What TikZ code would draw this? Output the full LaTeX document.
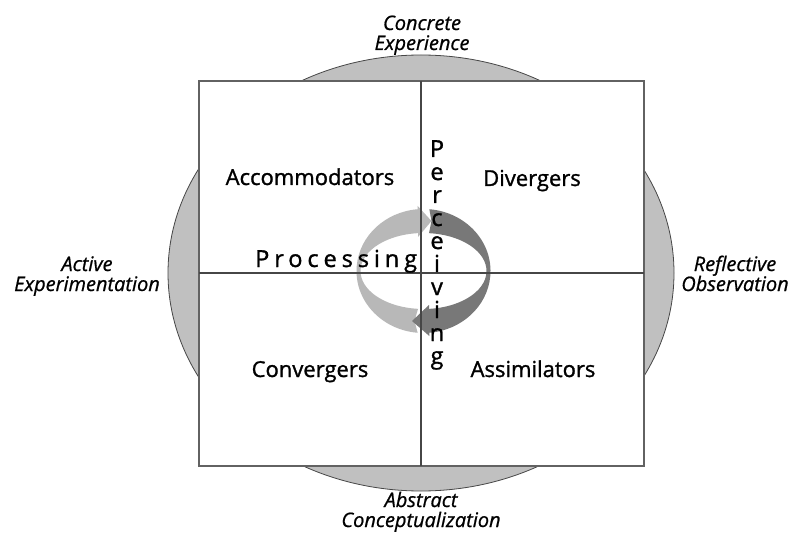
\documentclass[tikz,border=0pt]{standalone}
\usepackage{fontspec}
\setmainfont{Open Sans}
\definecolor{ringgray}{RGB}{192,192,192}
\definecolor{lightarrow}{RGB}{184,184,184}
\definecolor{darkarrow}{RGB}{120,120,120}
\definecolor{linegray}{RGB}{70,70,70}
\tikzstyle{pole} = [align=center, font=\fontsize{20}{20}\selectfont\itshape\addfontfeature{FakeBold=0.8}, inner sep=0pt, anchor=base]
\tikzstyle{quad} = [font=\fontsize{22}{25}\selectfont\addfontfeature{FakeBold=1.2}, inner sep=0pt, anchor=base]
\tikzstyle{letter} = [font=\fontsize{23.5}{25}\selectfont\addfontfeature{FakeBold=1.2}, inner sep=0pt, anchor=base]
\tikzstyle{divider} = [draw=linegray, line width=1.4pt]

\begin{document}
\begin{tikzpicture}[x=1pt, y=-1pt]
        \useasboundingbox (0,0) rectangle (791,534);
        % outer ring and the four quadrants
        \draw [fill=ringgray, draw=linegray, line width=0.8pt] (421,273) ellipse [x radius=253, y radius=218];
        \draw [fill=white, draw=linegray!85, line width=1.2pt] (199,81) rectangle (644,466);

        % learning cycle
        \begin{scope}[shift={(423.5,271)}]
                \fill [lightarrow] (95:67 and 62) arc [start angle=95, end angle=265, x radius=67, y radius=62]
                        -- (-5.8,-65) -- (8,-50) -- (-5.5,-34) -- (265:63 and 38)
                        arc [start angle=265, end angle=95, x radius=63, y radius=38]
                        -- (-9,50) -- cycle;
                \fill [darkarrow] (275:67 and 62) arc [start angle=275, end angle=445, x radius=67, y radius=62]
                        -- (5.8,65) -- (-11.5,50) -- (5.5,34) -- (445:63 and 38)
                        arc [start angle=445, end angle=275, x radius=63, y radius=38]
                        -- (8,-50) -- cycle;
        \end{scope}

        \draw [divider] (421,81) -- (421,466);
        \draw [divider] (199,273) -- (644,273);

        % base of a two-line label sits on its last line
        \node (conc) [pole] at (422,50) {Concrete\\Experience};
        \node (actv) [pole] at (87,291) {Active\\Experimentation};
        \node (refl) [pole] at (735,291) {Reflective\\Observation};
        \node (abst) [pole] at (421,527) {Abstract\\Conceptualization};

        \node (accom) [quad] at (310,185) {Accommodators};
        \node (diver) [quad] at (532,186) {Divergers};
        \node (conv) [quad] at (310,377) {Convergers};
        \node (assim) [quad] at (533,377) {Assimilators};

        \node (proc) [letter, anchor=base west] at (255,267) {\addfontfeature{LetterSpace=21}Processing};
        \foreach \ch [count=\i] in {P,e,r,c,e,i,v,i,n,g}
                \node (perc\i) [letter] at (437,{157+23*(\i-1)}) {\ch};
\end{tikzpicture}
\end{document}
